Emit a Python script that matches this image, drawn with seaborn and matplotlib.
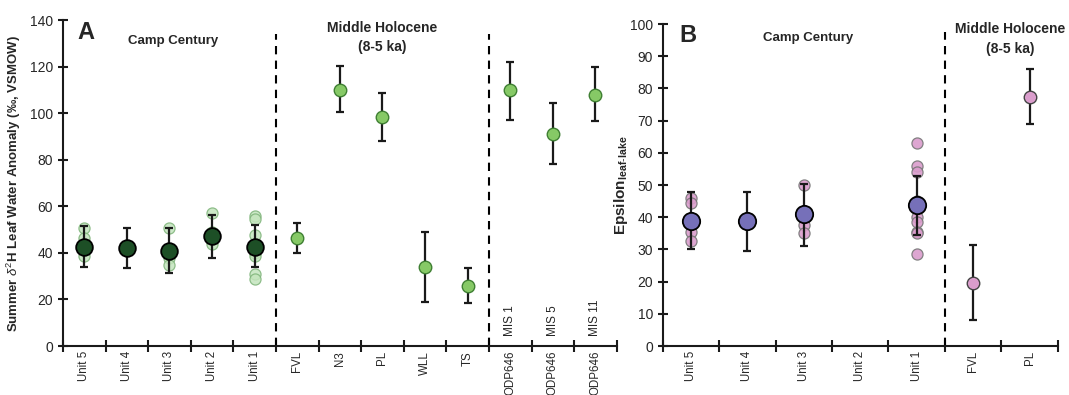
import numpy as np
import pandas as pd
import matplotlib
matplotlib.use("Agg")
import matplotlib.pyplot as plt
import seaborn as sns

# ---------------- data: panel A (summer d2H leaf water anomaly) ----------------
a_order = ["Unit 5", "Unit 4", "Unit 3", "Unit 2", "Unit 1",
           "FVL", "N3", "PL", "WLL", "TS",
           "ODP646 MIS 1", "ODP646 MIS 5", "ODP646 MIS 11"]
a_ticklabels = ["Unit 5", "Unit 4", "Unit 3", "Unit 2", "Unit 1",
                "FVL", "N3", "PL", "WLL", "TS",
                "ODP646", "ODP646", "ODP646"]
a_mis_labels = ["MIS 1", "MIS 5", "MIS 11"]

a_cc_units = ["Unit 5", "Unit 4", "Unit 3", "Unit 2", "Unit 1"]
a_cc_mean = [42.6, 41.9, 40.8, 47.2, 42.7]
a_cc_lo = [33.8, 33.5, 31.3, 37.9, 34.0]
a_cc_hi = [51.5, 50.5, 50.5, 56.3, 51.8]

a_ind_unit = ["Unit 5"] * 4 + ["Unit 3"] * 3 + ["Unit 2"] * 3 + ["Unit 1"] * 7
a_ind_val = [50.5, 46.5, 42.5, 38.5,
             50.5, 38.0, 35.0,
             57.0, 49.0, 44.0,
             56.0, 54.5, 47.5, 40.0, 38.5, 31.0, 29.0]

a_mh_sites = ["FVL", "N3", "PL", "WLL", "TS", "ODP646 MIS 1", "ODP646 MIS 5", "ODP646 MIS 11"]
a_mh_mean = [46.2, 110.2, 98.4, 33.8, 25.9, 109.9, 91.3, 108.0]
a_mh_lo = [39.8, 100.5, 88.0, 18.9, 18.6, 97.3, 78.4, 96.6]
a_mh_hi = [52.7, 120.1, 108.9, 48.8, 33.4, 122.2, 104.5, 119.8]

# ---------------- data: panel B (epsilon leaf-lake) ----------------
b_order = ["Unit 5", "Unit 4", "Unit 3", "Unit 2", "Unit 1", "FVL", "PL"]

b_cc_units = ["Unit 5", "Unit 4", "Unit 3", "Unit 1"]
b_cc_mean = [38.9, 38.7, 40.9, 43.8]
b_cc_lo = [30.0, 29.6, 31.1, 34.5]
b_cc_hi = [47.8, 47.8, 50.3, 52.9]

b_ind_unit = ["Unit 5"] * 5 + ["Unit 3"] * 3 + ["Unit 1"] * 9
b_ind_val = [46.0, 44.5, 38.0, 35.5, 32.5,
             50.0, 37.5, 35.0,
             63.0, 56.0, 54.0, 45.0, 40.0, 38.5, 35.5, 35.0, 28.5]

b_mh_sites = ["FVL", "PL"]
b_mh_mean = [19.7, 77.5]
b_mh_lo = [8.1, 68.9]
b_mh_hi = [31.4, 86.1]

# ---------------- style ----------------
sns.set_style("ticks")
plt.rcParams["font.family"] = ["Liberation Sans", "DejaVu Sans"]
plt.rcParams["mathtext.fontset"] = "custom"
plt.rcParams["mathtext.rm"] = "Liberation Sans"
plt.rcParams["mathtext.bf"] = "Liberation Sans:bold"
plt.rcParams["mathtext.it"] = "Liberation Sans:italic"

DARK_GREEN = "#1d4f26"
LIGHT_GREEN = "#c4e5bd"
MID_GREEN = "#86c966"
MID_GREEN_EDGE = "#3f7f33"
PURPLE = "#7670b9"
PINK = "#da9dcc"

fig = plt.figure(figsize=(10.69, 3.95), dpi=100)
axA = fig.add_axes([0.0589, 0.124, 0.518, 0.825])
axB = fig.add_axes([0.620, 0.124, 0.3695, 0.815])


def errbars(ax, order, cats, mean, lo, hi):
    pos = [order.index(c) for c in cats]
    mean = np.array(mean); lo = np.array(lo); hi = np.array(hi)
    ax.errorbar(pos, mean, yerr=[mean - lo, hi - mean], fmt="none",
                ecolor="#1a1a1a", elinewidth=1.6, capsize=3, capthick=1.6, zorder=3)


def style_axis(ax, order, ticklabels, ymax, ystep):
    n = len(order)
    ax.set_xlim(0 - 0.5, n - 0.5)
    ax.set_ylim(0, ymax)
    ax.set_yticks(np.arange(0, ymax + 1, ystep))
    ax.set_xticks(range(n))
    ax.set_xticklabels(ticklabels, rotation=90, fontsize=8.3)
    ax.set_xticks(np.arange(-0.5, n, 1.0), minor=True)
    ax.tick_params(axis="x", which="major", length=0, pad=3.5)
    ax.tick_params(axis="x", which="minor", length=8, width=1.5, direction="inout", color="#1a1a1a")
    ax.tick_params(axis="y", which="major", length=7, width=1.5, direction="inout",
                   labelsize=10, color="#1a1a1a")
    for s in ["top", "right"]:
        ax.spines[s].set_visible(False)
    for s in ["left", "bottom"]:
        ax.spines[s].set_linewidth(1.5)
        ax.spines[s].set_color("#1a1a1a")
    ax.set_xlabel("")


# ---------------- Panel A ----------------
dfA_ind = pd.DataFrame({"cat": a_ind_unit, "val": a_ind_val})
dfA_cc = pd.DataFrame({"cat": a_cc_units, "val": a_cc_mean})
dfA_mh = pd.DataFrame({"cat": a_mh_sites, "val": a_mh_mean})

sns.stripplot(data=dfA_ind, x="cat", y="val", order=a_order, jitter=False, ax=axA,
              color=LIGHT_GREEN, size=8, linewidth=0.9, edgecolor="#7fb47a", alpha=0.85, zorder=2)
errbars(axA, a_order, a_cc_units, a_cc_mean, a_cc_lo, a_cc_hi)
errbars(axA, a_order, a_mh_sites, a_mh_mean, a_mh_lo, a_mh_hi)
sns.stripplot(data=dfA_cc, x="cat", y="val", order=a_order, jitter=False, ax=axA,
              color=DARK_GREEN, size=12, linewidth=1.3, edgecolor="black", zorder=4)
sns.stripplot(data=dfA_mh, x="cat", y="val", order=a_order, jitter=False, ax=axA,
              color=MID_GREEN, size=9, linewidth=1.0, edgecolor=MID_GREEN_EDGE, zorder=4)

style_axis(axA, a_order, a_ticklabels, 140, 20)
axA.set_ylabel(r"Summer $\delta^{2}$H Leaf Water Anomaly (‰, VSMOW)", fontsize=9.5,
               fontweight="bold", labelpad=5)
for xv in [4.5, 9.5]:
    axA.plot([xv, xv], [0, 134], ls=(0, (4, 3)), color="black", lw=1.5, zorder=1)
for lab, cat in zip(a_mis_labels, a_order[10:]):
    axA.text(a_order.index(cat), 4.5, lab, rotation=90, ha="center", va="bottom", fontsize=8.5)
axA.text(-0.15, 134.5, "A", fontsize=17, fontweight="bold", ha="left", va="center")
axA.text(2.08, 131, "Camp Century", fontsize=9.5, fontweight="bold", ha="center", va="center")
axA.text(7.0, 136.5, "Middle Holocene", fontsize=10, fontweight="bold", ha="center", va="center")
axA.text(7.0, 128.5, "(8-5 ka)", fontsize=10, fontweight="bold", ha="center", va="center")

# ---------------- Panel B ----------------
dfB_ind = pd.DataFrame({"cat": b_ind_unit, "val": b_ind_val})
dfB_cc = pd.DataFrame({"cat": b_cc_units, "val": b_cc_mean})
dfB_mh = pd.DataFrame({"cat": b_mh_sites, "val": b_mh_mean})

sns.stripplot(data=dfB_ind, x="cat", y="val", order=b_order, jitter=False, ax=axB,
              color=PINK, size=8, linewidth=0.9, edgecolor="#777777", alpha=0.9, zorder=2)
errbars(axB, b_order, b_cc_units, b_cc_mean, b_cc_lo, b_cc_hi)
errbars(axB, b_order, b_mh_sites, b_mh_mean, b_mh_lo, b_mh_hi)
sns.stripplot(data=dfB_cc, x="cat", y="val", order=b_order, jitter=False, ax=axB,
              color=PURPLE, size=12.5, linewidth=1.3, edgecolor="black", zorder=4)
sns.stripplot(data=dfB_mh, x="cat", y="val", order=b_order, jitter=False, ax=axB,
              color=PINK, size=9, linewidth=1.0, edgecolor="#444444", zorder=4)

style_axis(axB, b_order, b_order, 100, 10)
axB.set_ylabel(r"Epsilon$_{\mathregular{leaf\text{-}lake}}$", fontsize=11, fontweight="bold", labelpad=0)
axB.plot([4.5, 4.5], [0, 97.5], ls=(0, (4, 3)), color="black", lw=1.5, zorder=1)
axB.text(-0.2, 96.5, "B", fontsize=17, fontweight="bold", ha="left", va="center")
axB.text(2.07, 95.8, "Camp Century", fontsize=9.5, fontweight="bold", ha="center", va="center")
axB.text(5.65, 98.5, "Middle Holocene", fontsize=10, fontweight="bold", ha="center", va="center",
         clip_on=False)
axB.text(5.65, 92.3, "(8-5 ka)", fontsize=10, fontweight="bold", ha="center", va="center")

fig.savefig("out.png", dpi=100)
